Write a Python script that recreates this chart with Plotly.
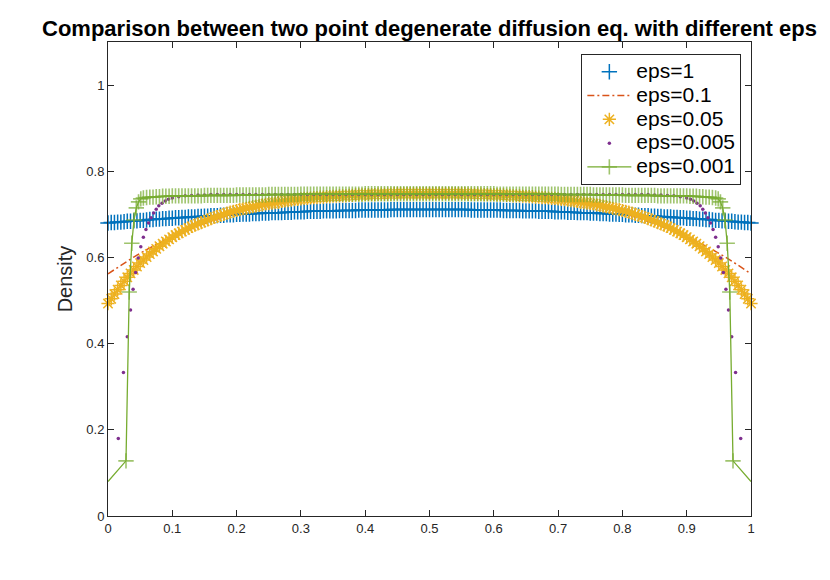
import plotly.graph_objects as go

# --------------------------------------------------
# Grid (shared by eps=1 and eps=0.05)
# --------------------------------------------------
X = [
    0.000, 0.005, 0.010, 0.015, 0.020, 0.025, 0.030, 0.035, 0.040, 0.045,
    0.050, 0.055, 0.060, 0.065, 0.070, 0.075, 0.080, 0.085, 0.090, 0.095,
    0.100, 0.105, 0.110, 0.115, 0.120, 0.125, 0.130, 0.135, 0.140, 0.145,
    0.150, 0.155, 0.160, 0.165, 0.170, 0.175, 0.180, 0.185, 0.190, 0.195,
    0.200, 0.205, 0.210, 0.215, 0.220, 0.225, 0.230, 0.235, 0.240, 0.245,
    0.250, 0.255, 0.260, 0.265, 0.270, 0.275, 0.280, 0.285, 0.290, 0.295,
    0.300, 0.305, 0.310, 0.315, 0.320, 0.325, 0.330, 0.335, 0.340, 0.345,
    0.350, 0.355, 0.360, 0.365, 0.370, 0.375, 0.380, 0.385, 0.390, 0.395,
    0.400, 0.405, 0.410, 0.415, 0.420, 0.425, 0.430, 0.435, 0.440, 0.445,
    0.450, 0.455, 0.460, 0.465, 0.470, 0.475, 0.480, 0.485, 0.490, 0.495,
    0.500, 0.505, 0.510, 0.515, 0.520, 0.525, 0.530, 0.535, 0.540, 0.545,
    0.550, 0.555, 0.560, 0.565, 0.570, 0.575, 0.580, 0.585, 0.590, 0.595,
    0.600, 0.605, 0.610, 0.615, 0.620, 0.625, 0.630, 0.635, 0.640, 0.645,
    0.650, 0.655, 0.660, 0.665, 0.670, 0.675, 0.680, 0.685, 0.690, 0.695,
    0.700, 0.705, 0.710, 0.715, 0.720, 0.725, 0.730, 0.735, 0.740, 0.745,
    0.750, 0.755, 0.760, 0.765, 0.770, 0.775, 0.780, 0.785, 0.790, 0.795,
    0.800, 0.805, 0.810, 0.815, 0.820, 0.825, 0.830, 0.835, 0.840, 0.845,
    0.850, 0.855, 0.860, 0.865, 0.870, 0.875, 0.880, 0.885, 0.890, 0.895,
    0.900, 0.905, 0.910, 0.915, 0.920, 0.925, 0.930, 0.935, 0.940, 0.945,
    0.950, 0.955, 0.960, 0.965, 0.970, 0.975, 0.980, 0.985, 0.990, 0.995,
    1.000,
]

# eps = 1
DENS_EPS_1 = [
    0.680, 0.681, 0.681, 0.682, 0.682, 0.683, 0.684, 0.684, 0.685, 0.685,
    0.686, 0.686, 0.687, 0.688, 0.688, 0.689, 0.689, 0.690, 0.690, 0.691,
    0.691, 0.692, 0.692, 0.693, 0.693, 0.694, 0.694, 0.694, 0.695, 0.695,
    0.696, 0.696, 0.697, 0.697, 0.697, 0.698, 0.698, 0.699, 0.699, 0.699,
    0.700, 0.700, 0.701, 0.701, 0.701, 0.702, 0.702, 0.702, 0.703, 0.703,
    0.703, 0.704, 0.704, 0.704, 0.704, 0.705, 0.705, 0.705, 0.706, 0.706,
    0.706, 0.706, 0.707, 0.707, 0.707, 0.707, 0.707, 0.708, 0.708, 0.708,
    0.708, 0.708, 0.709, 0.709, 0.709, 0.709, 0.709, 0.709, 0.710, 0.710,
    0.710, 0.710, 0.710, 0.710, 0.710, 0.710, 0.710, 0.710, 0.711, 0.711,
    0.711, 0.711, 0.711, 0.711, 0.711, 0.711, 0.711, 0.711, 0.711, 0.711,
    0.711,
    0.711, 0.711, 0.711, 0.711, 0.711, 0.711, 0.711, 0.711, 0.711, 0.711,
    0.711, 0.711, 0.710, 0.710, 0.710, 0.710, 0.710, 0.710, 0.710, 0.710,
    0.710, 0.710, 0.709, 0.709, 0.709, 0.709, 0.709, 0.709, 0.708, 0.708,
    0.708, 0.708, 0.708, 0.707, 0.707, 0.707, 0.707, 0.707, 0.706, 0.706,
    0.706, 0.706, 0.705, 0.705, 0.705, 0.704, 0.704, 0.704, 0.704, 0.703,
    0.703, 0.703, 0.702, 0.702, 0.702, 0.701, 0.701, 0.701, 0.700, 0.700,
    0.699, 0.699, 0.699, 0.698, 0.698, 0.697, 0.697, 0.697, 0.696, 0.696,
    0.695, 0.695, 0.694, 0.694, 0.694, 0.693, 0.693, 0.692, 0.692, 0.691,
    0.691, 0.690, 0.690, 0.689, 0.689, 0.688, 0.688, 0.687, 0.686, 0.686,
    0.685, 0.685, 0.684, 0.684, 0.683, 0.682, 0.682, 0.681, 0.681, 0.680,
]

# eps = 0.05
DENS_EPS_005 = [
    0.493, 0.504, 0.515, 0.525, 0.535, 0.545, 0.554, 0.563, 0.571, 0.579,
    0.587, 0.594, 0.601, 0.608, 0.614, 0.620, 0.626, 0.632, 0.637, 0.642,
    0.647, 0.652, 0.656, 0.660, 0.664, 0.668, 0.672, 0.675, 0.678, 0.681,
    0.684, 0.687, 0.690, 0.693, 0.695, 0.698, 0.700, 0.703, 0.705, 0.707,
    0.709, 0.711, 0.713, 0.714, 0.716, 0.718, 0.719, 0.721, 0.722, 0.724,
    0.725, 0.726, 0.727, 0.728, 0.730, 0.731, 0.732, 0.733, 0.734, 0.735,
    0.736, 0.737, 0.737, 0.738, 0.739, 0.739, 0.740, 0.740, 0.741, 0.741,
    0.742, 0.742, 0.743, 0.743, 0.743, 0.744, 0.744, 0.745, 0.745, 0.745,
    0.746, 0.746, 0.746, 0.746, 0.747, 0.747, 0.747, 0.747, 0.747, 0.748,
    0.748, 0.748, 0.748, 0.748, 0.748, 0.748, 0.748, 0.748, 0.748, 0.748,
    0.748,
    0.748, 0.748, 0.748, 0.748, 0.748, 0.748, 0.748, 0.748, 0.748, 0.748,
    0.748, 0.747, 0.747, 0.747, 0.747, 0.747, 0.746, 0.746, 0.746, 0.746,
    0.745, 0.745, 0.745, 0.744, 0.744, 0.743, 0.743, 0.743, 0.742, 0.742,
    0.741, 0.741, 0.740, 0.740, 0.739, 0.739, 0.738, 0.737, 0.737, 0.736,
    0.735, 0.734, 0.733, 0.732, 0.731, 0.730, 0.728, 0.727, 0.726, 0.725,
    0.724, 0.722, 0.721, 0.719, 0.718, 0.716, 0.714, 0.713, 0.711, 0.709,
    0.707, 0.705, 0.703, 0.700, 0.698, 0.695, 0.693, 0.690, 0.687, 0.684,
    0.681, 0.678, 0.675, 0.672, 0.668, 0.664, 0.660, 0.656, 0.652, 0.647,
    0.642, 0.637, 0.632, 0.626, 0.620, 0.614, 0.608, 0.601, 0.594, 0.587,
    0.579, 0.571, 0.563, 0.554, 0.545, 0.535, 0.525, 0.515, 0.504, 0.493,
]

# eps = 0.1 (coarser sampling, drawn as a dash-dot line)
X_EPS_01 = [
    0.00, 0.02, 0.04, 0.06, 0.08, 0.10, 0.12, 0.14, 0.16, 0.18,
    0.20, 0.22, 0.24, 0.26, 0.28, 0.30, 0.32, 0.34, 0.36, 0.38,
    0.40, 0.42, 0.44, 0.46, 0.48, 0.50,
    0.52, 0.54, 0.56, 0.58, 0.60,
    0.62, 0.64, 0.66, 0.68, 0.70, 0.72, 0.74, 0.76, 0.78, 0.80,
    0.82, 0.84, 0.86, 0.88, 0.90, 0.92, 0.94, 0.96, 0.98, 1.00,
]
DENS_EPS_01 = [
    0.562, 0.582, 0.601, 0.618, 0.634, 0.648, 0.661, 0.673, 0.684, 0.694,
    0.704, 0.712, 0.719, 0.725, 0.730, 0.734, 0.738, 0.741, 0.743, 0.745,
    0.746, 0.747, 0.748, 0.748, 0.748, 0.748,
    0.748, 0.748, 0.748, 0.747, 0.746,
    0.745, 0.743, 0.741, 0.738, 0.734, 0.730, 0.725, 0.719, 0.712, 0.704,
    0.694, 0.684, 0.673, 0.661, 0.648, 0.634, 0.618, 0.601, 0.582, 0.562,
]

# eps = 0.005 (dense near the walls, middle part hidden under eps=0.001)
X_EPS_0005 = (
    [0.016, 0.024, 0.030, 0.035, 0.039, 0.043, 0.047, 0.051, 0.055, 0.059,
     0.063, 0.067, 0.071, 0.075, 0.079, 0.084, 0.089, 0.094, 0.100]
    + X[22:179:2]
    + [0.900, 0.906, 0.911, 0.916, 0.921, 0.925, 0.929, 0.933, 0.937, 0.941,
       0.945, 0.949, 0.953, 0.957, 0.961, 0.965, 0.970, 0.976, 0.984]
)
DENS_EPS_0005 = [
    0.180, 0.333, 0.416, 0.478, 0.526, 0.565, 0.599, 0.625, 0.647, 0.665,
    0.680, 0.692, 0.703, 0.712, 0.720, 0.726, 0.731, 0.735, 0.738,
    0.741, 0.743, 0.744, 0.745, 0.745,
    0.746, 0.746, 0.746, 0.746, 0.746, 0.746, 0.746, 0.746, 0.746, 0.746,
    0.746, 0.746, 0.746, 0.746, 0.746, 0.746, 0.746, 0.746, 0.746, 0.746,
    0.746, 0.746, 0.746, 0.746, 0.746, 0.746, 0.746, 0.746, 0.746, 0.746,
    0.746, 0.746, 0.746, 0.746, 0.746, 0.746, 0.746, 0.746, 0.746, 0.746,
    0.746, 0.746, 0.746, 0.746, 0.746, 0.746, 0.746, 0.746, 0.746, 0.746,
    0.746, 0.746, 0.746, 0.746, 0.746, 0.746, 0.746, 0.746, 0.746, 0.746,
    0.746, 0.746, 0.746, 0.746, 0.746, 0.746, 0.746, 0.746, 0.746,
    0.745, 0.745, 0.744, 0.743, 0.741,
    0.738, 0.735, 0.731, 0.726, 0.720, 0.712, 0.703, 0.692, 0.680, 0.665,
    0.647, 0.625, 0.599, 0.565, 0.526, 0.478, 0.416, 0.333, 0.180,
]

# eps = 0.001
X_EPS_0001 = (
    [0.000, 0.028, 0.033, 0.037, 0.0405, 0.044, 0.0475, 0.051]
    + X[11:190]
    + [0.949, 0.9525, 0.956, 0.9595, 0.963, 0.967, 0.972, 1.000]
)
DENS_EPS_0001 = [
    0.080, 0.128, 0.520, 0.633, 0.687, 0.715, 0.729, 0.736,
    0.738, 0.739, 0.740, 0.740, 0.741, 0.741, 0.742, 0.742, 0.742,
    0.743, 0.743, 0.743, 0.743, 0.743, 0.743, 0.743, 0.743, 0.743, 0.743,
    0.744, 0.744, 0.744, 0.744, 0.744, 0.744, 0.744, 0.744, 0.744, 0.744,
    0.745, 0.745, 0.745, 0.745, 0.745, 0.745, 0.745, 0.745, 0.745, 0.745,
    0.746, 0.746, 0.746, 0.746, 0.746, 0.746, 0.746, 0.746, 0.746, 0.746,
    0.747, 0.747, 0.747, 0.747, 0.747, 0.747, 0.747, 0.747, 0.747, 0.747,
    0.747, 0.747, 0.747, 0.747, 0.747, 0.747, 0.747, 0.747, 0.747, 0.747,
    0.748, 0.748, 0.748, 0.748, 0.748, 0.748, 0.748, 0.748, 0.748, 0.748,
    0.748, 0.748, 0.748, 0.748, 0.748, 0.748, 0.748, 0.748, 0.748, 0.748,
    0.748, 0.748, 0.748, 0.748, 0.748, 0.748, 0.748, 0.748, 0.748, 0.748,
    0.748, 0.748, 0.748, 0.748, 0.748, 0.748, 0.748, 0.748, 0.748, 0.748,
    0.748,
    0.747, 0.747, 0.747, 0.747, 0.747, 0.747, 0.747, 0.747, 0.747, 0.747,
    0.747, 0.747, 0.747, 0.747, 0.747, 0.747, 0.747, 0.747, 0.747, 0.747,
    0.746, 0.746, 0.746, 0.746, 0.746, 0.746, 0.746, 0.746, 0.746, 0.746,
    0.745, 0.745, 0.745, 0.745, 0.745, 0.745, 0.745, 0.745, 0.745, 0.745,
    0.744, 0.744, 0.744, 0.744, 0.744, 0.744, 0.744, 0.744, 0.744, 0.744,
    0.743, 0.743, 0.743, 0.743, 0.743, 0.743, 0.743, 0.743, 0.743, 0.743,
    0.742, 0.742, 0.742, 0.741, 0.741, 0.740, 0.740, 0.739, 0.738,
    0.736, 0.729, 0.715, 0.687, 0.633, 0.520, 0.128, 0.080,
]

SERIES_NAMES = ["eps=1", "eps=0.1", "eps=0.05", "eps=0.005", "eps=0.001"]

X_TICKS = [0, 0.1, 0.2, 0.3, 0.4, 0.5, 0.6, 0.7, 0.8, 0.9, 1]
X_TICK_TEXT = ["0", "0.1", "0.2", "0.3", "0.4", "0.5", "0.6", "0.7", "0.8", "0.9", "1"]
Y_TICKS = [0, 0.2, 0.4, 0.6, 0.8, 1]
Y_TICK_TEXT = ["0", "0.2", "0.4", "0.6", "0.8", "1"]

# MATLAB default colour order
BLUE = "#0072BD"
ORANGE = "#D95319"
YELLOW = "#EDB120"
PURPLE = "#7E2F8E"
GREEN = "#77AC30"
AXIS = "#262626"


def legend_label(name):
    # large legend text with the tighter row spacing of a smaller legend font
    return f'<span style="font-size:21px">{name}</span>'


# the two wall points of eps=0.001 show the line only, no marker
green_sizes = [11] * len(X_EPS_0001)
green_sizes[0] = 0
green_sizes[-1] = 0

fig = go.Figure()

fig.add_trace(go.Scatter(
    x=X, y=DENS_EPS_1, name=legend_label(SERIES_NAMES[0]), mode="markers", cliponaxis=False,
    marker=dict(symbol="cross-thin", size=11, color=BLUE, line=dict(color=BLUE, width=1.5)),
))
fig.add_trace(go.Scatter(
    x=X_EPS_01, y=DENS_EPS_01, name=legend_label(SERIES_NAMES[1]), mode="lines",
    line=dict(color=ORANGE, width=1.5, dash="7px,3px,2px,3px"),
))
fig.add_trace(go.Scatter(
    x=X, y=DENS_EPS_005, name=legend_label(SERIES_NAMES[2]), mode="markers", cliponaxis=False,
    marker=dict(symbol="asterisk", size=11, color=YELLOW, line=dict(color=YELLOW, width=1.5)),
))
fig.add_trace(go.Scatter(
    x=X_EPS_0005, y=DENS_EPS_0005, name=legend_label(SERIES_NAMES[3]), mode="markers",
    marker=dict(symbol="circle", size=3.5, color=PURPLE, line=dict(width=0)),
))
fig.add_trace(go.Scatter(
    x=X_EPS_0001, y=DENS_EPS_0001, name=legend_label(SERIES_NAMES[4]), mode="lines+markers",
    cliponaxis=False,
    line=dict(color=GREEN, width=1.3),
    marker=dict(symbol="cross-thin", size=green_sizes, color=GREEN, line=dict(color=GREEN, width=1.6)),
))

axis_common = dict(
    showline=True, linecolor=AXIS, linewidth=1, mirror="ticks",
    ticks="inside", ticklen=6, tickcolor=AXIS, tickwidth=1,
    showgrid=False, zeroline=False,
    tickfont=dict(family="Arial", size=13, color=AXIS),
)

# page body adds an 8px offset, so the figure is 8px smaller than the window
fig.update_layout(
    width=822, height=572,
    margin=dict(l=100, r=79, t=34, b=64),
    paper_bgcolor="white", plot_bgcolor="white",
    title=dict(
        text="Comparison between two point degenerate diffusion eq. with different eps",
        font=dict(family="Arial", size=22, color="black", weight="bold"),
        x=0.5, xref="paper", xanchor="center",
        y=1 - 20 / 572, yref="container", yanchor="middle",
    ),
    xaxis=dict(range=[0, 1], tickvals=X_TICKS, ticktext=X_TICK_TEXT, **axis_common),
    yaxis=dict(
        range=[0, 1.1], tickvals=Y_TICKS, ticktext=Y_TICK_TEXT,
        title=dict(text="Density", font=dict(family="Arial", size=20, color=AXIS), standoff=8),
        **axis_common,
    ),
    legend=dict(
        x=0.985, y=0.975, xanchor="right", yanchor="top",
        bgcolor="white", bordercolor=AXIS, borderwidth=1,
        font=dict(family="Arial", size=16, color="black"),
        tracegroupgap=0, itemwidth=44,
    ),
    showlegend=True,
)

fig.write_html("out.html")
